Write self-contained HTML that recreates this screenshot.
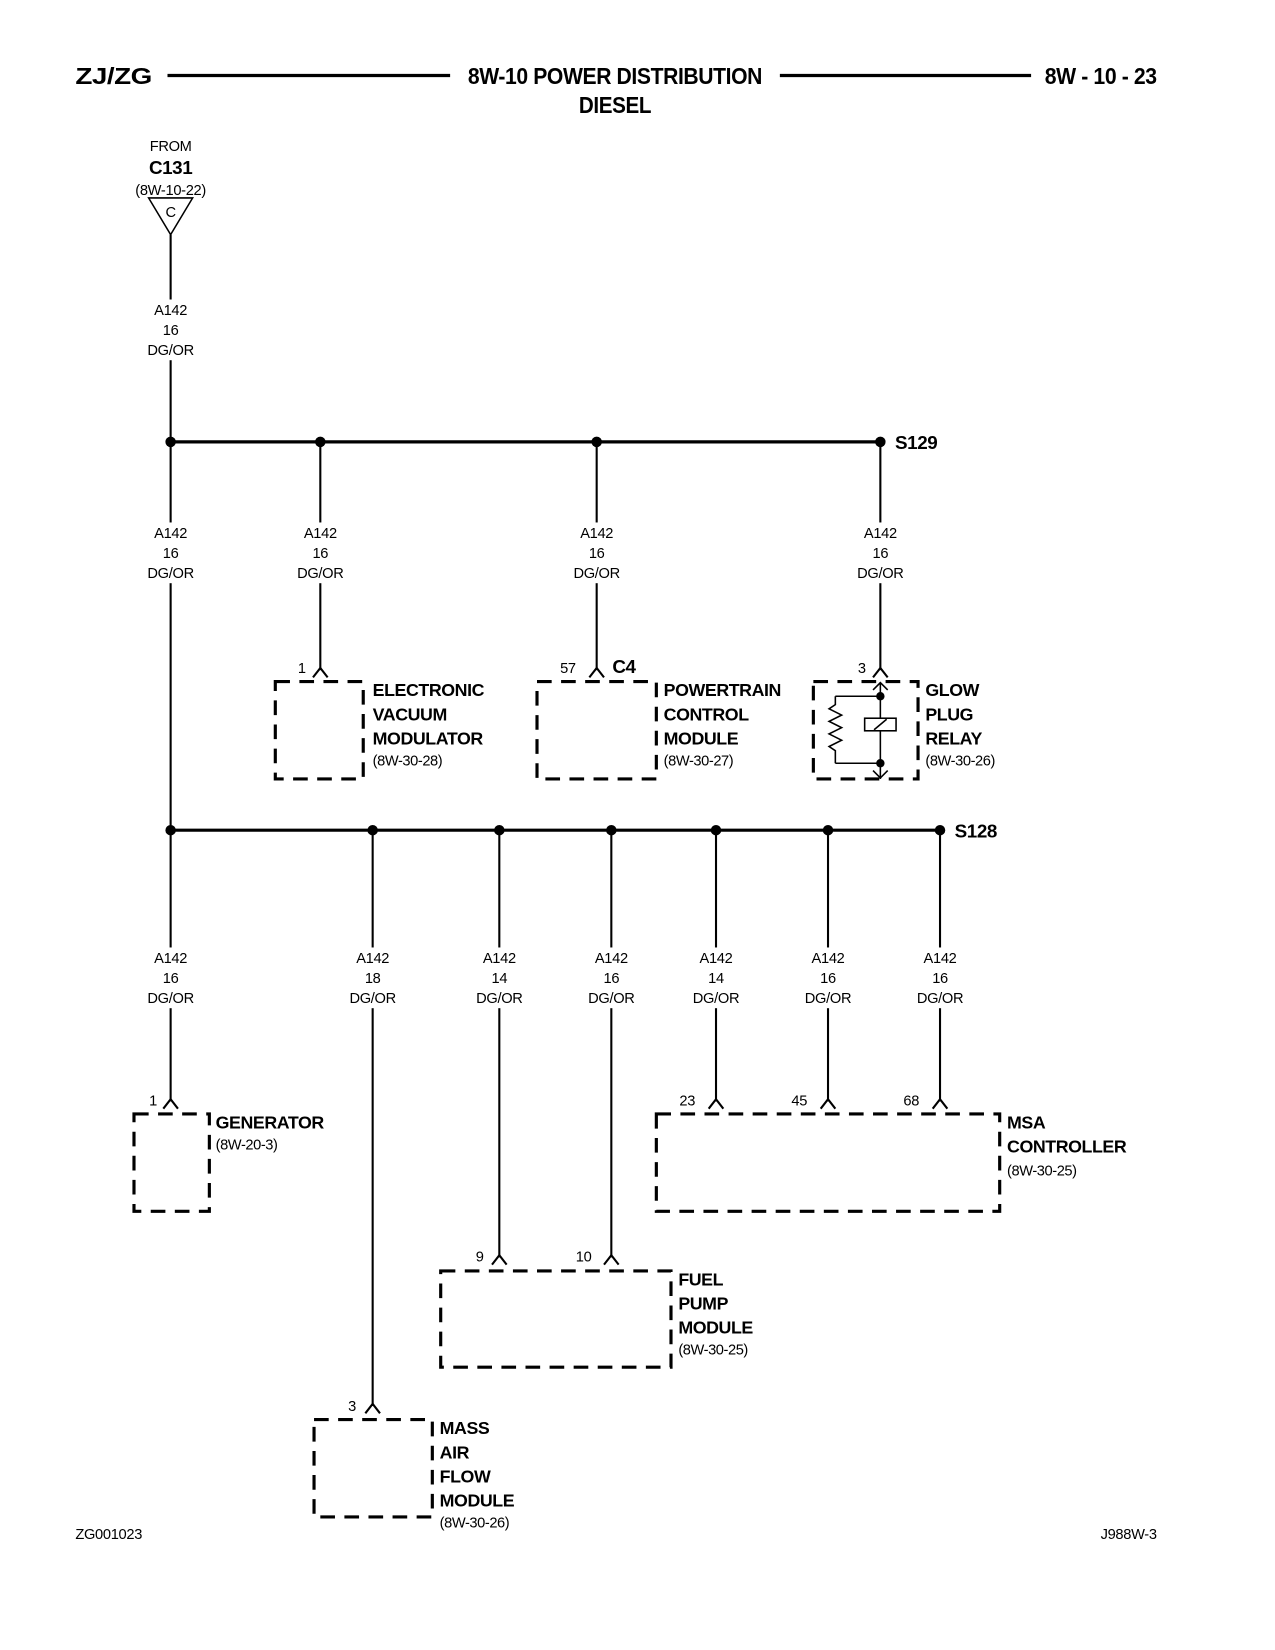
<!DOCTYPE html>
<html><head><style>
html,body{margin:0;padding:0;background:#fff;}
svg{display:block;}
text{font-family:"Liberation Sans Narrow","Liberation Sans",sans-serif;fill:#000;}
.b{font-weight:bold;font-size:17px;letter-spacing:-0.4px;}
.n{font-size:14px;letter-spacing:-0.3px;}
.s{font-size:14px;letter-spacing:-0.4px;}
.w{stroke:#000;stroke-width:2;fill:none;}
.bus{stroke:#000;stroke-width:3;fill:none;}
.d{stroke:#000;stroke-width:3;fill:none;stroke-dasharray:14 9;}
</style></head><body>
<svg width="1275" height="1650" viewBox="0 0 1218 1576" xmlns="http://www.w3.org/2000/svg">
<!-- header -->
<text x="72" y="80" class="b" style="font-size:22px" textLength="73" lengthAdjust="spacingAndGlyphs">ZJ/ZG</text>
<line x1="160" y1="72" x2="430" y2="72" stroke="#000" stroke-width="3"/>
<text x="447" y="80" class="b" style="font-size:22px" textLength="281" lengthAdjust="spacingAndGlyphs">8W-10 POWER DISTRIBUTION</text>
<text x="553" y="108" class="b" style="font-size:22px" textLength="69" lengthAdjust="spacingAndGlyphs">DIESEL</text>
<line x1="745" y1="72" x2="985" y2="72" stroke="#000" stroke-width="3"/>
<text x="998" y="80" class="b" style="font-size:22px" textLength="107" lengthAdjust="spacingAndGlyphs">8W - 10 - 23</text>

<!-- from C131 -->
<text x="163" y="144" class="n" text-anchor="middle">FROM</text>
<text x="163" y="166" class="b" text-anchor="middle" style="font-size:18px">C131</text>
<text x="163" y="186" class="n" text-anchor="middle">(8W-10-22)</text>
<polygon points="142,189 184,189 163,224" fill="none" stroke="#000" stroke-width="1.5"/>
<text x="163" y="207" class="n" text-anchor="middle">C</text>
<line x1="163" y1="224" x2="163" y2="793" class="w"/>

<!-- S129 bus -->
<line x1="163" y1="422" x2="841" y2="422" class="bus"/>
<g fill="#000"><circle cx="163" cy="422" r="5"/><circle cx="306" cy="422" r="5"/><circle cx="570" cy="422" r="5"/><circle cx="841" cy="422" r="5"/></g>
<text x="855" y="429" class="b" style="font-size:18px">S129</text>
<line x1="306" y1="422" x2="306" y2="640" class="w"/>
<line x1="570" y1="422" x2="570" y2="640" class="w"/>
<line x1="841" y1="422" x2="841" y2="640" class="w"/>

<!-- S128 bus -->
<line x1="163" y1="793" x2="898" y2="793" class="bus"/>
<g fill="#000">
<circle cx="163" cy="793" r="5"/><circle cx="356" cy="793" r="5"/><circle cx="477" cy="793" r="5"/><circle cx="584" cy="793" r="5"/><circle cx="684" cy="793" r="5"/><circle cx="791" cy="793" r="5"/><circle cx="898" cy="793" r="5"/>
</g>
<text x="912" y="800" class="b" style="font-size:18px">S128</text>
<g class="w">
<line x1="163" y1="793" x2="163" y2="1052"/>
<line x1="356" y1="793" x2="356" y2="1343"/>
<line x1="477" y1="793" x2="477" y2="1201"/>
<line x1="584" y1="793" x2="584" y2="1201"/>
<line x1="684" y1="793" x2="684" y2="1052"/>
<line x1="791" y1="793" x2="791" y2="1052"/>
<line x1="898" y1="793" x2="898" y2="1052"/>
</g>

<!-- label backgrounds (wire gaps) -->
<g fill="#fff">
<rect x="140" y="286" width="46" height="58"/>
<rect x="140" y="499" width="46" height="58"/>
<rect x="283" y="499" width="46" height="58"/>
<rect x="547" y="499" width="46" height="58"/>
<rect x="818" y="499" width="46" height="58"/>
<rect x="140" y="905" width="46" height="58"/>
<rect x="333" y="905" width="46" height="58"/>
<rect x="454" y="905" width="46" height="58"/>
<rect x="561" y="905" width="46" height="58"/>
<rect x="661" y="905" width="46" height="58"/>
<rect x="768" y="905" width="46" height="58"/>
<rect x="875" y="905" width="46" height="58"/>
</g>
<g class="n" text-anchor="middle">
<text x="163" y="301">A142</text><text x="163" y="320">16</text><text x="163" y="339">DG/OR</text>
<text x="163" y="514">A142</text><text x="163" y="533">16</text><text x="163" y="552">DG/OR</text>
<text x="306" y="514">A142</text><text x="306" y="533">16</text><text x="306" y="552">DG/OR</text>
<text x="570" y="514">A142</text><text x="570" y="533">16</text><text x="570" y="552">DG/OR</text>
<text x="841" y="514">A142</text><text x="841" y="533">16</text><text x="841" y="552">DG/OR</text>
<text x="163" y="920">A142</text><text x="163" y="939">16</text><text x="163" y="958">DG/OR</text>
<text x="356" y="920">A142</text><text x="356" y="939">18</text><text x="356" y="958">DG/OR</text>
<text x="477" y="920">A142</text><text x="477" y="939">14</text><text x="477" y="958">DG/OR</text>
<text x="584" y="920">A142</text><text x="584" y="939">16</text><text x="584" y="958">DG/OR</text>
<text x="684" y="920">A142</text><text x="684" y="939">14</text><text x="684" y="958">DG/OR</text>
<text x="791" y="920">A142</text><text x="791" y="939">16</text><text x="791" y="958">DG/OR</text>
<text x="898" y="920">A142</text><text x="898" y="939">16</text><text x="898" y="958">DG/OR</text>
</g>

<g class="w" stroke-width="1.5">
<polyline points="299,647 306,638 313,647"/>
<polyline points="563,647 570,638 577,647"/>
<polyline points="834,647 841,638 848,647"/>
</g>
<text x="292" y="643" class="n" text-anchor="end">1</text>
<text x="550" y="643" class="n" text-anchor="end">57</text>
<text x="585" y="643" class="b" style="font-size:18px">C4</text>
<text x="827" y="643" class="n" text-anchor="end">3</text>

<!-- EVM -->
<rect x="263" y="651" width="84" height="93" class="d"/>
<text x="356" y="665" class="b">ELECTRONIC</text>
<text x="356" y="688" class="b">VACUUM</text>
<text x="356" y="711" class="b">MODULATOR</text>
<text x="356" y="731" class="s">(8W-30-28)</text>
<!-- PCM -->
<rect x="513" y="651" width="114" height="93" class="d"/>
<text x="634" y="665" class="b">POWERTRAIN</text>
<text x="634" y="688" class="b">CONTROL</text>
<text x="634" y="711" class="b">MODULE</text>
<text x="634" y="731" class="s">(8W-30-27)</text>
<!-- Glow plug relay -->
<rect x="777" y="651" width="100" height="93" class="d"/>
<text x="884" y="665" class="b">GLOW</text>
<text x="884" y="688" class="b">PLUG</text>
<text x="884" y="711" class="b">RELAY</text>
<text x="884" y="731" class="s">(8W-30-26)</text>
<g stroke="#000" stroke-width="1.5" fill="none">
<line x1="841" y1="652" x2="841" y2="744"/>
<polyline points="834,659 841,652 848,659"/>
<polyline points="834,736 841,743 848,736"/>
<line x1="798" y1="665" x2="841" y2="665"/>
<line x1="798" y1="729" x2="841" y2="729"/>
<polyline points="798,665 798,673 792,677 804,683 792,689 804,695 792,701 804,707 792,713 798,717 798,729"/>
<rect x="826" y="686" width="30" height="12" fill="#fff"/>
<line x1="835" y1="697" x2="847" y2="687"/>
</g>
<circle cx="841" cy="665" r="4" fill="#000"/><circle cx="841" cy="729" r="4" fill="#000"/>

<g class="w" stroke-width="1.5">
<polyline points="156,1059 163,1050 170,1059"/>
<polyline points="677,1059 684,1050 691,1059"/>
<polyline points="784,1059 791,1050 798,1059"/>
<polyline points="891,1059 898,1050 905,1059"/>
<polyline points="470,1208 477,1199 484,1208"/>
<polyline points="577,1208 584,1199 591,1208"/>
<polyline points="349,1350 356,1341 363,1350"/>
</g>
<g class="n" text-anchor="end">
<text x="150" y="1056">1</text>
<text x="664" y="1056">23</text>
<text x="771" y="1056">45</text>
<text x="878" y="1056">68</text>
<text x="462" y="1205">9</text>
<text x="565" y="1205">10</text>
<text x="340" y="1348">3</text>
</g>

<!-- Generator -->
<rect x="128" y="1064" width="72" height="93" class="d"/>
<text x="206" y="1078" class="b">GENERATOR</text>
<text x="206" y="1098" class="s">(8W-20-3)</text>
<!-- MSA -->
<rect x="627" y="1064" width="328" height="93" class="d"/>
<text x="962" y="1078" class="b">MSA</text>
<text x="962" y="1101" class="b">CONTROLLER</text>
<text x="962" y="1123" class="s">(8W-30-25)</text>
<!-- Fuel pump -->
<rect x="421" y="1214" width="220" height="92" class="d"/>
<text x="648" y="1228" class="b">FUEL</text>
<text x="648" y="1251" class="b">PUMP</text>
<text x="648" y="1274" class="b">MODULE</text>
<text x="648" y="1294" class="s">(8W-30-25)</text>
<!-- MAF -->
<rect x="300" y="1356" width="113" height="93" class="d"/>
<text x="420" y="1370" class="b">MASS</text>
<text x="420" y="1393" class="b">AIR</text>
<text x="420" y="1416" class="b">FLOW</text>
<text x="420" y="1439" class="b">MODULE</text>
<text x="420" y="1459" class="s">(8W-30-26)</text>

<text x="72" y="1470" class="n">ZG001023</text>
<text x="1105" y="1470" class="n" text-anchor="end">J988W-3</text>
</svg>
</body></html>
